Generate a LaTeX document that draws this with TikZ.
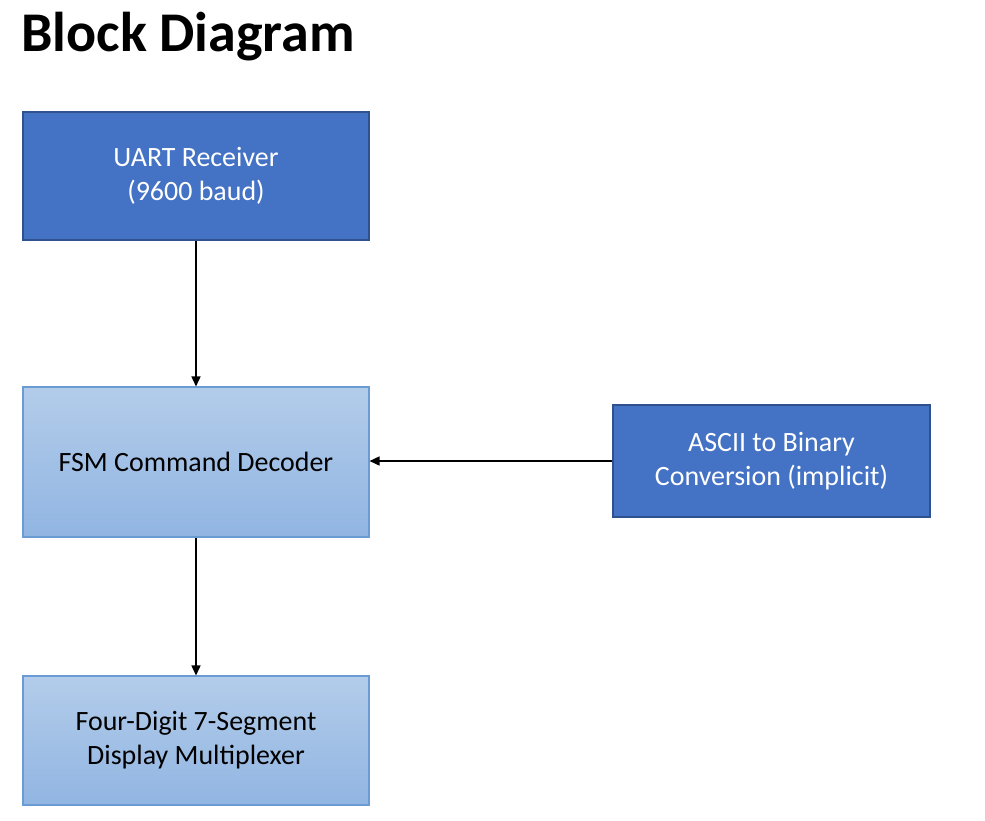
\documentclass[tikz,border=0pt]{standalone}
\usepackage{fontspec}
\setmainfont{Carlito}
\usetikzlibrary{arrows.meta,positioning}
\definecolor{darkblk}{HTML}{4472C4}
\definecolor{darkedge}{HTML}{2F528F}
\definecolor{litetop}{HTML}{B3CCEA}
\definecolor{litebot}{HTML}{91B5E2}
\definecolor{liteedge}{HTML}{6A9BD3}

\begin{document}
\begin{tikzpicture}[
  >={Triangle[length=2mm,width=1.8mm]},
  blk/.style={draw=darkedge, line width=0.9pt, fill=darkblk, text=white,
    minimum width=6.92cm, align=center, font=\fontsize{15.9}{19.4}\selectfont},
  lite/.style={draw=liteedge, line width=0.6pt, top color=litetop, bottom color=litebot,
    text=black, minimum width=6.92cm, align=center, font=\fontsize{15.9}{19.4}\selectfont},
  flow/.style={->, line width=0.85pt, black},
]
\useasboundingbox (0,0) rectangle (19.7,-16.4);

\node[anchor=base west, font=\fontsize{31.9}{38}\selectfont\bfseries] (title) at (0.3,-1.04) {Block Diagram};

\node[blk, minimum height=2.56cm] (uart) at (3.92,-3.52) {UART Receiver\\(9600 baud)};
\node[lite, minimum height=3.0cm] (fsm) at (3.92,-9.24) {FSM Command Decoder};
\node[blk, minimum width=6.34cm, minimum height=2.24cm] (ascii) at (15.43,-9.22) {ASCII to Binary\\Conversion (implicit)};
\node[lite, minimum height=2.58cm] (mux) at (3.92,-14.81) {Four-Digit 7-Segment\\Display Multiplexer};

\draw[flow] (uart) -- (fsm);
\draw[flow] (ascii.west) -- (ascii.west -| fsm.east);
\draw[flow] (fsm) -- (mux);

\end{tikzpicture}
\end{document}
